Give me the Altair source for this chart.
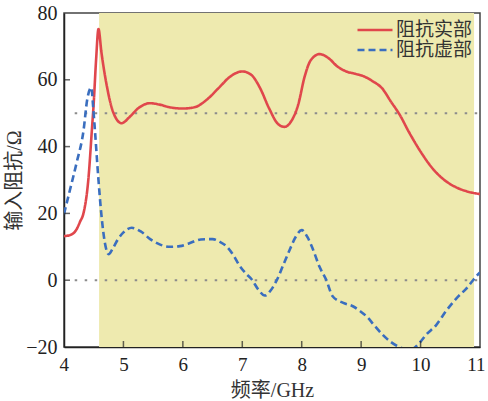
import altair as alt
import pandas as pd

# Real part of input impedance (Ohm) vs frequency (GHz)
real_f = [4.0, 4.1, 4.21, 4.27, 4.33, 4.41, 4.47, 4.5, 4.54, 4.58, 4.63, 4.72, 4.83, 4.97,
          5.1, 5.25, 5.45, 5.6, 5.8, 6.0, 6.2, 6.4, 6.6, 6.8, 7.0, 7.15, 7.3, 7.45,
          7.6, 7.71, 7.82, 7.94, 8.05, 8.15, 8.3, 8.45, 8.6, 8.75, 8.9, 9.05, 9.2,
          9.35, 9.5, 9.65, 9.8, 10.0, 10.2, 10.4, 10.6, 10.8, 11.0]
real_v = [13.2, 13.5, 15.2, 17.5, 20.2, 30.2, 45.2, 53.0, 66.0, 75.2, 68.2, 58.2, 50.2, 47.0,
          48.8, 51.5, 53.0, 52.6, 51.7, 51.4, 51.8, 54.0, 57.5, 61.0, 62.5, 61.5, 57.5, 51.5,
          46.8, 45.9, 47.5, 52.5, 61.0, 65.8, 67.7, 66.5, 64.0, 62.5, 61.8, 61.0, 59.5,
          57.5, 53.5, 49.5, 44.5, 38.5, 33.5, 30.0, 27.8, 26.5, 25.8]

# Imaginary part of input impedance (Ohm) vs frequency (GHz)
imag_f = [4.0, 4.1, 4.21, 4.33, 4.39, 4.46, 4.49, 4.52, 4.58, 4.63, 4.69, 4.75, 4.82, 4.91,
          5.0, 5.14, 5.3, 5.45, 5.6, 5.78, 5.95, 6.1, 6.3, 6.5, 6.62, 6.73, 6.85, 6.96,
          7.06, 7.16, 7.27, 7.38, 7.48, 7.58, 7.7, 7.8, 7.9, 8.0, 8.1, 8.19, 8.3, 8.41,
          8.52, 8.7, 8.86, 9.0, 9.1, 9.22, 9.36, 9.5, 9.64, 9.75, 9.85, 9.98, 10.1,
          10.26, 10.43, 10.6, 10.77, 10.94, 11.0]
imag_v = [19.8, 27.0, 35.0, 45.0, 54.0, 57.7, 52.0, 45.0, 30.0, 19.5, 11.0, 7.8, 9.5, 12.3,
          14.3, 15.7, 14.5, 12.3, 10.8, 10.0, 10.2, 11.0, 12.2, 12.3, 11.5, 10.2, 7.5, 4.2,
          2.0, 0.2, -2.8, -4.6, -3.0, 0.0, 5.0, 9.2, 13.0, 15.0, 12.8, 9.2, 4.0, 0.2,
          -4.8, -6.8, -7.8, -9.5, -11.0, -13.5, -16.3, -18.5, -20.0, -20.6, -20.6, -18.8, -16.2,
          -13.5, -9.2, -5.5, -2.5, 1.2, 2.3]

series_names = ["阻抗实部", "阻抗虚部"]
band = {"start": 4.59, "end": 10.9}          # shaded frequency band
ref_levels = [50, 0]                          # dotted reference levels
x_ticks = [4, 5, 6, 7, 8, 9, 10, 11]
y_ticks = [-20, 0, 20, 40, 60, 80]

FONT = "Liberation Serif, Noto Sans CJK SC"
RED = "#E0474C"
BLUE = "#3A6EBF"

lines = pd.concat([
    pd.DataFrame({"f": real_f, "v": real_v, "s": series_names[0]}),
    pd.DataFrame({"f": imag_f, "v": imag_v, "s": series_names[1]}),
])

x_scale = alt.Scale(domain=[4, 11], nice=False, zero=False)
y_scale = alt.Scale(domain=[-20, 80], nice=False, zero=False)

x_axis = alt.Axis(values=x_ticks, title="频率/GHz", grid=False, tickSize=0,
                  labelPadding=8, titlePadding=6, format="d",
                  labelFlush=True, labelFlushOffset=5, labelFontSize=19)
y_axis = alt.Axis(values=y_ticks, title="输入阻抗/Ω", grid=False, tickSize=0,
                  labelPadding=7, labelFlush=False,
                  titleX=-40, titleY=167, titleAlign="center", titleBaseline="bottom")

shade = alt.Chart(pd.DataFrame([band])).mark_rect(color="#EEEAAF").encode(
    x=alt.X("start:Q", scale=x_scale, axis=x_axis),
    x2="end:Q",
    y=alt.datum(-20, scale=y_scale, axis=y_axis),
    y2=alt.datum(80),
)

refs = alt.Chart(pd.DataFrame({"y": ref_levels, "x0": 4.18, "x1": 11})).mark_rule(
    color="#8C8C8C", strokeWidth=2, strokeDash=[2.5, 7.5]
).encode(x="x0:Q", x2="x1:Q", y="y:Q")

curves = alt.Chart(lines).mark_line(interpolate="monotone", strokeWidth=2.6, clip=True).encode(
    x="f:Q",
    y="v:Q",
    color=alt.Color("s:N", scale=alt.Scale(domain=series_names, range=[RED, BLUE]),
                    legend=alt.Legend(title=None, orient="none", legendX=292, legendY=7,
                                      symbolType="stroke", symbolSize=1225,
                                      symbolStrokeWidth=2.6, labelFontSize=19,
                                      labelFont=FONT, labelColor="#333333",
                                      labelOffset=2, rowPadding=0, clipHeight=20,
                                      padding=0)),
    strokeDash=alt.StrokeDash("s:N", scale=alt.Scale(domain=series_names,
                                                      range=[[1, 0], [7, 4]]), legend=None),
    order="f:Q",
)

# inward tick marks on the bottom and left axes
xticks = alt.Chart(pd.DataFrame({"t": x_ticks[1:-1]})).mark_tick(
    orient="vertical", size=6, thickness=1.5, color="#222222", yOffset=-3
).encode(x="t:Q", y=alt.datum(-20))
yticks = alt.Chart(pd.DataFrame({"t": y_ticks[1:-1]})).mark_tick(
    orient="horizontal", size=6, thickness=1.5, color="#222222", xOffset=3
).encode(y="t:Q", x=alt.datum(4))

chart = alt.layer(shade, refs, curves, xticks, yticks).properties(
    width=416, height=334,
    autosize=alt.AutoSizeParams(type="none"),
    padding={"left": 64, "top": 13, "right": 8, "bottom": 54},
).configure_view(
    stroke="#444444", strokeWidth=1.5
).configure_axis(
    domainColor="#222222", domainWidth=1.5,
    labelFont=FONT, labelFontSize=20, labelColor="#222222",
    titleFont=FONT, titleFontSize=20, titleColor="#333333", titleFontWeight="normal",
).configure_legend(
    symbolStrokeColor=None
)

chart.save("out.html", embed_options={"renderer": "svg", "actions": False})
